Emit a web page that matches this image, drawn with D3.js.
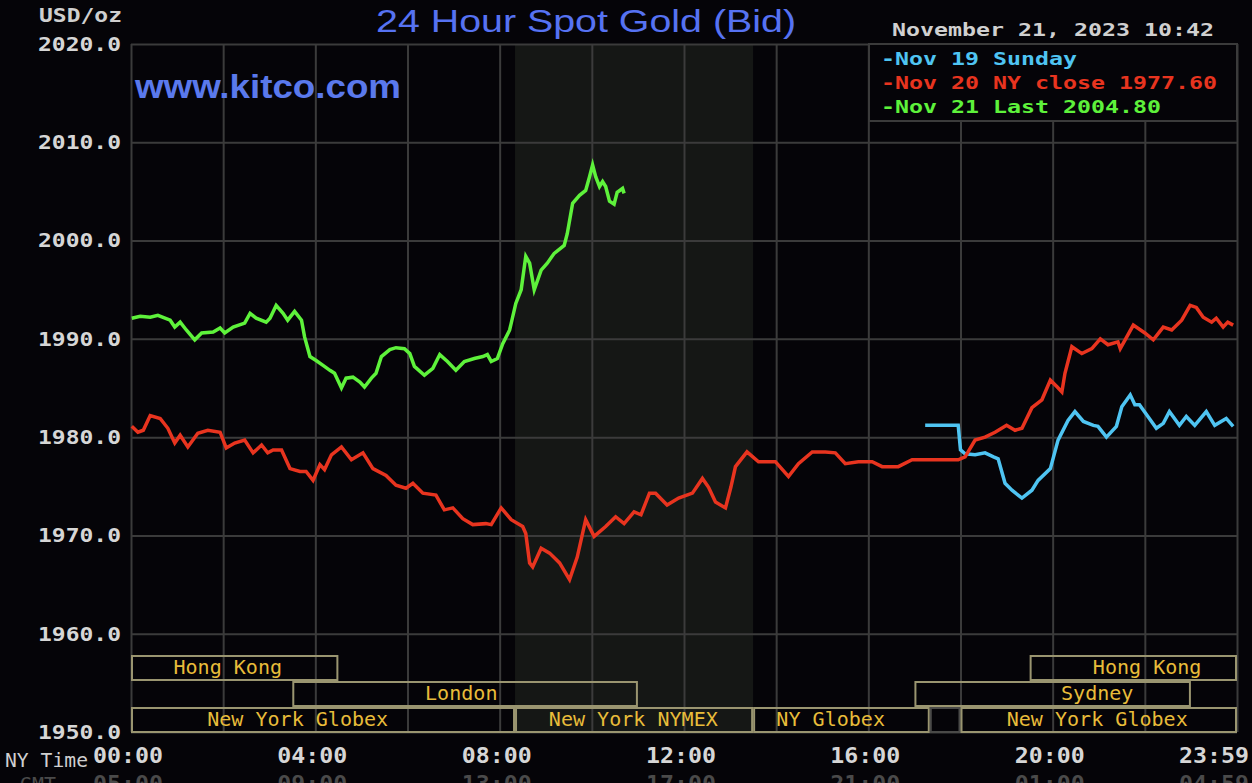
<!DOCTYPE html>
<html>
<head>
<meta charset="utf-8">
<script src="https://cdn.jsdelivr.net/npm/d3@7"></script>
<style>
  html, body { margin: 0; padding: 0; background: #050408; }
  svg { display: block; }
</style>
</head>
<body>
<div id="chart"></div>
<script>
// minutes after NY midnight, price in USD/oz
var nov21 = [[1,1992.1],[12,1992.3],[25,1992.2],[35,1992.4],[51,1991.9],[57,1991.2],[64,1991.7],[72,1990.9],
  [83,1989.9],[92,1990.6],[107,1990.7],[116,1991.1],[122,1990.6],[133,1991.2],[148,1991.6],[155,1992.6],
  [163,1992.1],[176,1991.7],[181,1992.1],[189,1993.4],[198,1992.6],[204,1991.9],[213,1992.8],[222,1991.9],
  [226,1990.2],[233,1988.2],[241,1987.8],[250,1987.3],[259,1986.8],[265,1986.5],[274,1985.0],[280,1986.0],
  [289,1986.1],[298,1985.6],[304,1985.1],[313,1986.0],[319,1986.5],[326,1988.2],[337,1988.9],[345,1989.1],
  [356,1989.0],[363,1988.5],[369,1987.2],[382,1986.3],[393,1987.0],[402,1988.4],[412,1987.7],[423,1986.8],
  [434,1987.7],[447,1988.0],[458,1988.2],[464,1988.4],[469,1987.7],[477,1988.0],[484,1989.5],[493,1990.9],
  [501,1993.6],[508,1995.0],[514,1998.4],[519,1997.7],[525,1995.0],[534,1997.0],[542,1997.7],[551,1998.7],
  [564,1999.5],[568,2000.7],[575,2003.8],[584,2004.6],[592,2005.1],[597,2006.5],[601,2007.7],[605,2006.5],
  [610,2005.5],[614,2006.0],[618,2005.5],[623,2004.0],[629,2003.7],[633,2004.9],[640,2005.3],[642,2004.8]];

var nov20 = [[1,1981.1],[9,1980.5],[16,1980.7],[25,1982.2],[38,1981.9],[48,1980.9],[57,1979.4],[64,1980.2],
  [74,1979.0],[87,1980.4],[100,1980.7],[116,1980.5],[124,1978.9],[135,1979.4],[148,1979.7],[159,1978.4],
  [170,1979.2],[178,1978.4],[185,1978.7],[196,1978.7],[207,1976.8],[220,1976.5],[228,1976.5],[237,1975.6],
  [246,1977.2],[252,1976.7],[261,1978.2],[274,1979.0],[287,1977.7],[302,1978.4],[315,1976.8],[332,1976.1],
  [345,1975.1],[358,1974.8],[367,1975.3],[380,1974.3],[397,1974.1],[408,1972.6],[419,1972.8],[432,1971.7],
  [445,1971.1],[462,1971.2],[469,1971.1],[482,1972.8],[495,1971.6],[510,1970.9],[514,1970.2],[519,1967.2],
  [523,1966.8],[534,1968.7],[545,1968.2],[558,1967.2],[571,1965.5],[581,1967.8],[592,1971.6],[603,1969.9],
  [618,1970.9],[631,1971.9],[642,1971.2],[655,1972.4],[664,1972.1],[675,1974.3],[683,1974.3],[698,1973.1],
  [713,1973.8],[731,1974.3],[744,1975.8],[752,1974.9],[761,1973.4],[774,1972.8],[781,1974.9],[787,1977.0],
  [802,1978.5],[817,1977.5],[839,1977.5],[856,1976.0],[869,1977.3],[887,1978.5],[904,1978.5],[917,1978.4],
  [930,1977.3],[947,1977.5],[965,1977.5],[978,1977.0],[999,1977.0],[1017,1977.7],[1077,1977.7],[1086,1978.0],
  [1099,1979.7],[1112,1980.0],[1125,1980.5],[1140,1981.2],[1151,1980.7],[1160,1980.9],[1173,1983.0],
  [1186,1983.8],[1197,1985.8],[1206,1985.1],[1212,1984.6],[1216,1986.5],[1225,1989.2],[1238,1988.5],
  [1251,1989.0],[1262,1990.0],[1272,1989.4],[1285,1989.7],[1288,1989.0],[1305,1991.4],[1320,1990.6],
  [1331,1989.9],[1344,1991.2],[1355,1990.9],[1368,1991.9],[1379,1993.4],[1387,1993.2],[1396,1992.2],
  [1407,1991.7],[1413,1992.1],[1422,1991.2],[1428,1991.7],[1435,1991.4]];

var nov19 = [[1034,1981.2],[1077,1981.2],[1080,1978.7],[1086,1978.3],[1099,1978.2],[1112,1978.4],[1123,1978.0],
  [1129,1977.8],[1138,1975.3],[1147,1974.6],[1160,1973.8],[1173,1974.6],[1181,1975.6],[1197,1976.8],
  [1207,1979.7],[1220,1981.7],[1229,1982.6],[1240,1981.6],[1253,1981.2],[1259,1981.1],[1270,1980.0],
  [1283,1981.1],[1290,1983.1],[1301,1984.3],[1307,1983.3],[1313,1983.3],[1324,1982.1],[1335,1980.9],
  [1344,1981.4],[1352,1982.6],[1365,1981.2],[1374,1982.1],[1385,1981.2],[1400,1982.6],[1411,1981.2],
  [1426,1981.9],[1435,1981.1]];

var legendLabels = ["-Nov 19 Sunday", "-Nov 20 NY close 1977.60", "-Nov 21 Last 2004.80"];
var yTicks = [1950, 1960, 1970, 1980, 1990, 2000, 2010, 2020];
var xGridMins = d3.range(0, 1441, 120);
var xTickMins = [0, 240, 480, 720, 960, 1200, 1439];
var xTickLabels = ["00:00", "04:00", "08:00", "12:00", "16:00", "20:00", "23:59"];
var gmtLabels = ["05:00", "09:00", "13:00", "17:00", "21:00", "01:00", "04:59"];
var nymexHours = [500, 810];

// row 0 top, 1 middle, 2 bottom; label = minute the name is centred on
var sessions = [
  {row: 0, name: "Hong Kong", start: 0, end: 270, label: 126},
  {row: 0, name: "Hong Kong", start: 1170, end: 1440, label: 1323},
  {row: 1, name: "London", start: 210, end: 660, label: 430},
  {row: 1, name: "Sydney", start: 1020, end: 1380, label: 1258},
  {row: 2, name: "New York Globex", start: 0, end: 500, label: 217},
  {row: 2, name: "New York NYMEX", start: 500, end: 810, label: 654},
  {row: 2, name: "NY Globex", start: 810, end: 1040, label: 911},
  {row: 2, name: "", start: 1040, end: 1080, label: 1060, closed: true},
  {row: 2, name: "New York Globex", start: 1080, end: 1440, label: 1258}
];

function drawChart() {
  var W = 1252, H = 783;
  var pLeft = 131, pRight = 1237, pTop = 44, pBottom = 732;
  var mono = "'DejaVu Sans Mono', monospace";

  var svg = d3.select("#chart").append("svg")
    .attr("width", W).attr("height", H);

  svg.append("rect").attr("width", W).attr("height", H).attr("fill", "#050408");

  var x = d3.scaleLinear().domain([0, 1440]).range([pLeft, pRight]);
  var y = d3.scaleLinear().domain([1950, 2020]).range([pBottom, pTop]);

  // NYMEX shaded hours
  svg.append("rect")
    .attr("x", x(nymexHours[0])).attr("y", pTop)
    .attr("width", x(nymexHours[1]) - x(nymexHours[0]))
    .attr("height", pBottom - pTop)
    .attr("fill", "#151715");

  // grid
  var gridY = svg.append("g").attr("transform", "translate(" + pLeft + ",0)")
    .call(d3.axisLeft(y).tickValues(yTicks).tickSize(-(pRight - pLeft)).tickFormat(""));
  var gridX = svg.append("g").attr("transform", "translate(0," + pBottom + ")")
    .call(d3.axisBottom(x).tickValues(xGridMins).tickSize(-(pBottom - pTop)).tickFormat(""));
  [gridY, gridX].forEach(function (g) {
    g.select(".domain").remove();
    g.selectAll("line").attr("stroke", "#3b3b3b").attr("stroke-width", 2);
  });

  // y labels
  var yAxis = svg.append("g").attr("transform", "translate(" + pLeft + ",0)")
    .call(d3.axisLeft(y).tickValues(yTicks).tickSize(0).tickPadding(10)
      .tickFormat(function (d) { return d.toFixed(1); }));
  yAxis.select(".domain").remove();
  yAxis.selectAll("text")
    .attr("fill", "#d6d6d6")
    .attr("font-family", mono).attr("font-weight", "bold").attr("font-size", 20)
    .attr("textLength", 83).attr("lengthAdjust", "spacingAndGlyphs");

  svg.append("text").attr("x", 122).attr("y", 22).attr("text-anchor", "end")
    .attr("fill", "#cfcfcf").attr("font-family", mono).attr("font-weight", "bold")
    .attr("font-size", 19).attr("textLength", 83).attr("lengthAdjust", "spacingAndGlyphs")
    .text("USD/oz");

  // session boxes
  var rowTop = [655, 681, 707], rowH = 25;
  var sess = svg.append("g");
  sess.selectAll("rect").data(sessions).enter().append("rect")
    .attr("x", function (d) { return x(d.start) + 1; })
    .attr("y", function (d) { return rowTop[d.row] + 1; })
    .attr("width", function (d) { return x(d.end) - x(d.start) - 2; })
    .attr("height", rowH - 1)
    .attr("fill", "none")
    .attr("stroke", function (d) { return d.closed ? "#4a4a48" : "#9a9570"; })
    .attr("stroke-width", 2);
  sess.selectAll("text").data(sessions).enter().append("text")
    .attr("x", function (d) { return x(d.label); })
    .attr("y", function (d) { return rowTop[d.row] + 19; })
    .attr("text-anchor", "middle")
    .attr("fill", "#e8bc3a").attr("font-family", mono).attr("font-size", 19)
    .attr("textLength", function (d) { return d.name.length * 12.07 || null; })
    .attr("lengthAdjust", "spacingAndGlyphs")
    .text(function (d) { return d.name; });

  // x labels, NY time and GMT
  var last = xTickMins.length - 1;
  svg.append("g").selectAll("text").data(xTickMins).enter().append("text")
    .attr("x", function (d, i) { return i === last ? 1249 : x(d) - 3; })
    .attr("y", 763)
    .attr("text-anchor", function (d, i) { return i === last ? "end" : "middle"; })
    .attr("fill", "#d6d6d6").attr("font-family", mono).attr("font-weight", "bold").attr("font-size", 21)
    .attr("textLength", 70).attr("lengthAdjust", "spacingAndGlyphs")
    .text(function (d, i) { return xTickLabels[i]; });
  svg.append("g").selectAll("text").data(xTickMins).enter().append("text")
    .attr("x", function (d, i) { return i === last ? 1249 : x(d) - 3; })
    .attr("y", 791)
    .attr("text-anchor", function (d, i) { return i === last ? "end" : "middle"; })
    .attr("fill", "#4a4a4a").attr("font-family", mono).attr("font-weight", "bold").attr("font-size", 21)
    .attr("textLength", 70).attr("lengthAdjust", "spacingAndGlyphs")
    .text(function (d, i) { return gmtLabels[i]; });
  svg.append("text").attr("x", 5).attr("y", 767)
    .attr("fill", "#cfcfcf").attr("font-family", mono).attr("font-size", 19)
    .attr("textLength", 83).attr("lengthAdjust", "spacingAndGlyphs").text("NY Time");
  svg.append("text").attr("x", 20).attr("y", 791)
    .attr("fill", "#4a4a4a").attr("font-family", mono).attr("font-size", 19)
    .attr("textLength", 36).attr("lengthAdjust", "spacingAndGlyphs").text("GMT");

  // price lines
  var line = d3.line()
    .x(function (d) { return x(d[0]); })
    .y(function (d) { return y(d[1]); });
  var series = [
    {data: nov19, color: "#4fc4f2"},
    {data: nov20, color: "#e8341f"},
    {data: nov21, color: "#5ef23b"}
  ];
  svg.append("g").selectAll("path").data(series).enter().append("path")
    .attr("d", function (d) { return line(d.data); })
    .attr("fill", "none")
    .attr("stroke", function (d) { return d.color; })
    .attr("stroke-width", 3.5)
    .attr("stroke-linejoin", "miter");

  // legend
  var lg = svg.append("g");
  lg.append("rect").attr("x", 869).attr("y", 44).attr("width", pRight - 869).attr("height", 77)
    .attr("fill", "#050408").attr("stroke", "#3b3b3b").attr("stroke-width", 2);
  lg.selectAll("text").data(legendLabels).enter().append("text")
    .attr("x", 881)
    .attr("y", function (d, i) { return 65 + i * 24; })
    .attr("fill", function (d, i) { return series[i].color; })
    .attr("font-family", mono).attr("font-weight", "bold").attr("font-size", 18.5)
    .attr("textLength", function (d) { return d.length * 14; })
    .attr("lengthAdjust", "spacingAndGlyphs")
    .text(function (d) { return d; });

  // header texts
  svg.append("text").attr("x", 1214).attr("y", 36).attr("text-anchor", "end")
    .attr("fill", "#d0d0d0").attr("font-family", mono).attr("font-weight", "bold").attr("font-size", 18.5)
    .attr("textLength", 322).attr("lengthAdjust", "spacingAndGlyphs")
    .text("November 21, 2023 10:42");

  svg.append("text").attr("x", 586).attr("y", 32).attr("text-anchor", "middle")
    .attr("fill", "#5672f2").attr("font-family", "'Liberation Sans', Arial, sans-serif")
    .attr("font-size", 32).attr("textLength", 420).attr("lengthAdjust", "spacingAndGlyphs")
    .text("24 Hour Spot Gold (Bid)");

  svg.append("text").attr("x", 135).attr("y", 98)
    .attr("fill", "#5a79ec").attr("font-family", "'Liberation Sans', Arial, sans-serif")
    .attr("font-weight", "bold").attr("font-size", 33)
    .attr("textLength", 266).attr("lengthAdjust", "spacingAndGlyphs")
    .text("www.kitco.com");
}

drawChart();
</script>
</body>
</html>
